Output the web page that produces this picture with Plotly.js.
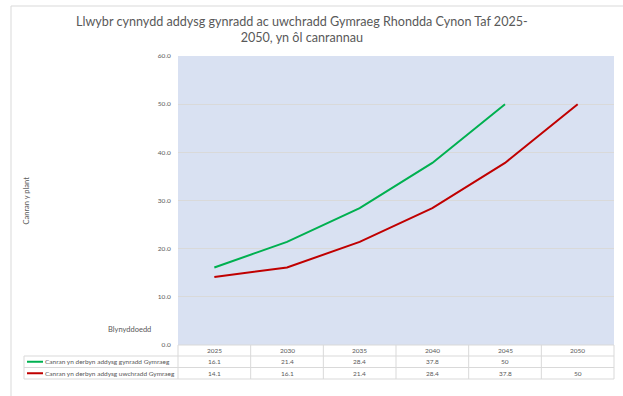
<!DOCTYPE html>
<html>
<head>
<meta charset="utf-8">
<script src="https://cdn.plot.ly/plotly-3.0.1.min.js"></script>
<style>html,body{margin:0;padding:0;background:#fff;}#chart{width:623px;height:396px;}</style>
</head>
<body>
<div id="chart"></div>
<script>
var years = ['2025', '2030', '2035', '2040', '2045', '2050'];
var primaryName = 'Canran yn derbyn addysg gynradd Gymraeg';
var secondaryName = 'Canran yn derbyn addysg uwchradd Gymraeg';
var primaryValues = [16.1, 21.4, 28.4, 37.8, 50, null];
var secondaryValues = [14.1, 16.1, 21.4, 28.4, 37.8, 50];
var primaryColor = '#00b050';
var secondaryColor = '#c00000';
var yTicks = [0, 10, 20, 30, 40, 50, 60];
var titleText = 'Llwybr cynnydd addysg gynradd ac uwchradd Gymraeg Rhondda Cynon Taf 2025-<br>2050, yn ôl canrannau';
var yTitle = 'Canran y plant';
var xTitle = 'Blynyddoedd';

var W = 623, H = 396;
var m = {l: 178, r: 9, t: 56, b: 51};
var pw = W - m.l - m.r, ph = H - m.t - m.b;
function px2x(p) { return (p - m.l) / pw; }
function py2y(p) { return (H - m.b - p) / ph; }

var txtColor = '#595959';
var gridColor = '#d9d9d9';
var fontFam = 'Lato, "Open Sans", sans-serif';

var traces = [
  {x: years, y: primaryValues, name: primaryName, type: 'scatter', mode: 'lines',
   line: {color: primaryColor, width: 2}, hoverinfo: 'skip'},
  {x: years, y: secondaryValues, name: secondaryName, type: 'scatter', mode: 'lines',
   line: {color: secondaryColor, width: 2}, hoverinfo: 'skip'}
];

// table geometry (layout positions)
var rowEdges = [py2y(345), py2y(356), py2y(367.5), py2y(379)];
var tableLeft = px2x(24);
var n = years.length;
var annotations = [];
var shapes = [];
var cellFont = {family: fontFam, size: 6.5, color: txtColor};

// header cells (years), placed on the category axis by index
years.forEach(function (yr, i) {
  annotations.push({xref: 'x', yref: 'paper', x: i, y: (rowEdges[0] + rowEdges[1]) / 2,
    text: yr, showarrow: false, font: cellFont, xanchor: 'center', yanchor: 'middle'});
});
var series = [[primaryName, primaryValues, primaryColor], [secondaryName, secondaryValues, secondaryColor]];
series.forEach(function (s, r) {
  var yc = (rowEdges[r + 1] + rowEdges[r + 2]) / 2;
  s[1].forEach(function (v, i) {
    if (v === null) return;
    annotations.push({xref: 'x', yref: 'paper', x: i, y: yc,
      text: String(v), showarrow: false, font: cellFont, xanchor: 'center', yanchor: 'middle'});
  });
  annotations.push({xref: 'paper', yref: 'paper', x: px2x(43), y: yc, text: s[0],
    showarrow: false, font: cellFont, xanchor: 'left', yanchor: 'middle'});
  shapes.push({type: 'line', xref: 'paper', yref: 'paper', x0: px2x(27), x1: px2x(43), y0: yc, y1: yc,
    line: {color: s[2], width: 2}});
});
// table lines
var lineStyle = {color: gridColor, width: 1};
shapes.push({type: 'line', xref: 'paper', yref: 'paper', x0: 0, x1: 1, y0: rowEdges[0], y1: rowEdges[0], line: lineStyle});
for (var k = 1; k < rowEdges.length; k++) {
  shapes.push({type: 'line', xref: 'paper', yref: 'paper', x0: tableLeft, x1: 1, y0: rowEdges[k], y1: rowEdges[k], line: lineStyle});
}
for (var i = 0; i <= n; i++) {
  shapes.push({type: 'line', xref: 'paper', yref: 'paper', x0: i / n, x1: i / n, y0: rowEdges[0], y1: rowEdges[3], line: lineStyle});
}
shapes.push({type: 'line', xref: 'paper', yref: 'paper', x0: tableLeft, x1: tableLeft, y0: rowEdges[1], y1: rowEdges[3], line: lineStyle});
// outer chart border (top & left visible)
shapes.push({type: 'line', xref: 'paper', yref: 'paper', x0: px2x(11), x1: px2x(640), y0: py2y(6), y1: py2y(6), line: {color: gridColor, width: 1}});
shapes.push({type: 'line', xref: 'paper', yref: 'paper', x0: px2x(11), x1: px2x(11), y0: py2y(6), y1: py2y(420), line: {color: gridColor, width: 1}});

annotations.push({xref: 'paper', yref: 'paper', x: px2x(26), y: 0.5, text: yTitle, textangle: -90,
  showarrow: false, font: {family: fontFam, size: 7.5, color: txtColor}, xanchor: 'center', yanchor: 'middle'});
annotations.push({xref: 'paper', yref: 'paper', x: px2x(153), y: py2y(329), text: xTitle,
  showarrow: false, font: {family: fontFam, size: 7.5, color: txtColor}, xanchor: 'right', yanchor: 'middle'});
// chart title (two lines)
annotations.push({xref: 'paper', yref: 'paper', x: px2x(302), y: py2y(29.5), text: titleText,
  showarrow: false, font: {family: fontFam, size: 12.6, color: txtColor}, xanchor: 'center', yanchor: 'middle', align: 'center'});

var layout = {
  width: W, height: H,
  margin: m,
  paper_bgcolor: '#ffffff',
  plot_bgcolor: '#d9e1f2',
  showlegend: false,
  hovermode: false,
  xaxis: {type: 'category', categoryarray: years, range: [-0.5, n - 0.5], showticklabels: false,
    showgrid: false, zeroline: false, showline: false, ticks: ''},
  yaxis: {range: [0, 60], tickvals: yTicks, tickformat: '.1f', showgrid: true, gridcolor: gridColor,
    gridwidth: 1, zeroline: false, showline: false, ticks: 'outside', ticklen: 5, tickcolor: 'rgba(0,0,0,0)',
    tickfont: {family: fontFam, size: 6.5, color: txtColor}},
  shapes: shapes,
  annotations: annotations
};
Plotly.newPlot('chart', traces, layout, {staticPlot: true, displayModeBar: false});
</script>
</body>
</html>
